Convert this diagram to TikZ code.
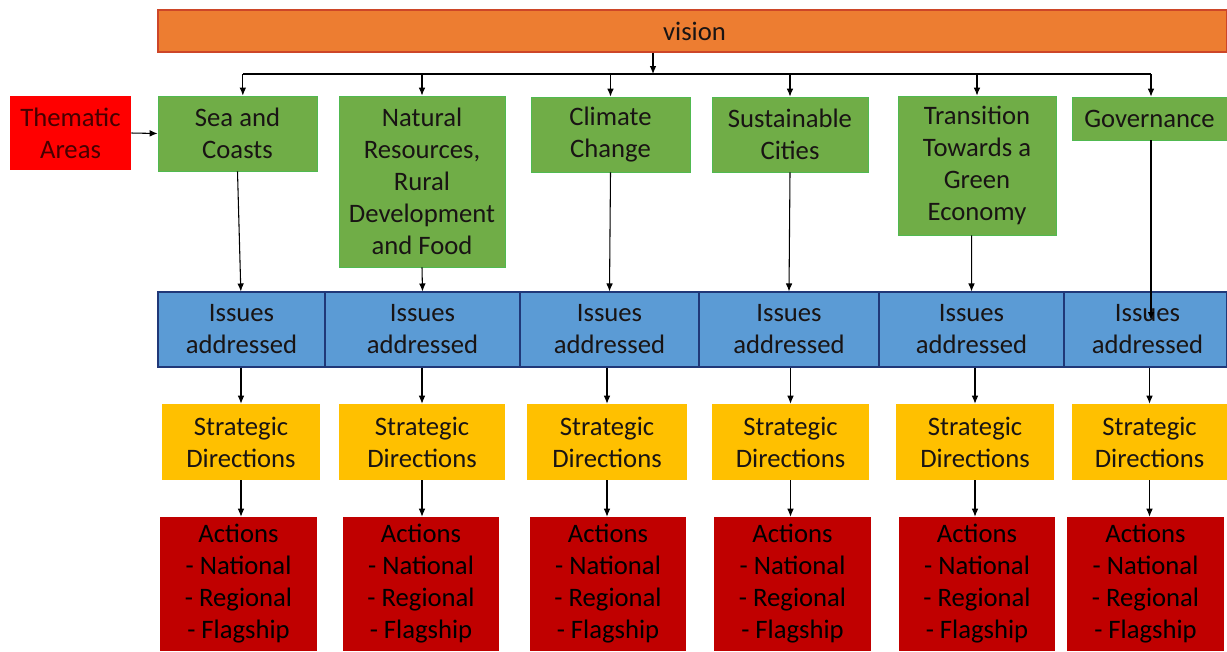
\documentclass[tikz,border=0pt]{standalone}
\usepackage{fontspec}
\setmainfont{Carlito}
\usepackage{xcolor}
\usetikzlibrary{arrows.meta}

\definecolor{visionfill}{RGB}{237,125,49}
\definecolor{visionline}{RGB}{205,70,40}
\definecolor{themefill}{RGB}{255,0,0}
\definecolor{themetext}{RGB}{70,0,0}
\definecolor{greenfill}{RGB}{112,173,71}
\definecolor{greenline}{RGB}{80,185,80}
\definecolor{bluefill}{RGB}{91,155,213}
\definecolor{blueline}{RGB}{32,56,120}
\definecolor{yellowfill}{RGB}{255,192,0}
\definecolor{actfill}{RGB}{192,0,0}
\definecolor{txtdark}{RGB}{25,20,20}

\begin{document}
\begin{tikzpicture}[x=0.75pt,y=-0.75pt,
    bw/.style={minimum width=#1*0.75pt},
    bh/.style={minimum height=#1*0.75pt},
    box/.style={inner sep=0pt, align=center, text=txtdark,
        font=\fontsize{20}{24}\selectfont},
    areabox/.style={box, fill=greenfill, draw=greenline, line width=0.6pt},
    issuebox/.style={box, fill=bluefill, draw=blueline, line width=0.8pt, bh=75},
    stratbox/.style={box, fill=yellowfill, bh=76},
    actbox/.style={box, fill=actfill, bh=134, text=black},
    link/.style={line width=0.8pt, -{Latex[length=6pt,width=5pt]}}]
    \useasboundingbox (0,0) rectangle (1227,651);

    % Vision bar
    \node[box, fill=visionfill, draw=visionline, line width=0.8pt,
        bw=1069, bh=42] (vision) at (692.5,31) {\hspace*{3pt}vision};

    % Thematic areas
    \node[box, fill=themefill, text=themetext,
        bw=121, bh=74] (theme) at (70.5,133) {Thematic\\Areas};
    \node[areabox, bw=159, bh=75] (sea) at (237.5,133.5) {Sea and\\Coasts};
    \node[areabox, bw=166, bh=171] (nat) at (422,181.5) {Natural\\Resources,\\Rural\\Development\\and Food};
    \node[areabox, bw=159, bh=75] (clim) at (610.5,134.5) {Climate\\Change};
    \node[areabox, bw=156, bh=75] (sust) at (790,134.5) {Sustainable\\Cities};
    \node[areabox, bw=158, bh=139] (trans) at (977,165.5) {Transition\\Towards a\\Green\\Economy};
    \node[areabox, bw=155, bh=43] (gov) at (1149.5,118.5) {Governance};

    % Issues row
    \node[issuebox, bw=167] (iss1) at (241.5,329.5) {Issues\\addressed};
    \node[issuebox, bw=195] (iss2) at (422.5,329.5) {Issues\\addressed};
    \node[issuebox, bw=179] (iss3) at (609.5,329.5) {Issues\\addressed};
    \node[issuebox, bw=180] (iss4) at (789,329.5) {Issues\\addressed};
    \node[issuebox, bw=185] (iss5) at (971.5,329.5) {Issues\\addressed};
    \node[issuebox, bw=163] (iss6) at (1145.5,329.5) {\hspace*{3pt}Issues\\\hspace*{3pt}addressed};

    % Strategic directions
    \node[stratbox, bw=158] (str1) at (241,442) {Strategic\\Directions};
    \node[stratbox, bw=166] (str2) at (422,442) {Strategic\\Directions};
    \node[stratbox, bw=160] (str3) at (607,442) {Strategic\\Directions};
    \node[stratbox, bw=157] (str4) at (790.5,442) {Strategic\\Directions};
    \node[stratbox, bw=158] (str5) at (975,442) {Strategic\\Directions};
    \node[stratbox, bw=155] (str6) at (1149.5,442) {Strategic\\Directions};

    % Actions
    \node[actbox, bw=157] (act1) at (238.5,584) {Actions\\- National\\- Regional\\- Flagship};
    \node[actbox, bw=156] (act2) at (421,584) {Actions\\- National\\- Regional\\- Flagship};
    \node[actbox, bw=156] (act3) at (608,584) {Actions\\- National\\- Regional\\- Flagship};
    \node[actbox, bw=157] (act4) at (792.5,584) {Actions\\- National\\- Regional\\- Flagship};
    \node[actbox, bw=156] (act5) at (977,584) {Actions\\- National\\- Regional\\- Flagship};
    \node[actbox, bw=157] (act6) at (1145.5,584) {Actions\\- National\\- Regional\\- Flagship};

    % Distribution bus from the vision
    \coordinate (bus) at (653,74);
    \coordinate (govend) at (1151,320);
    \draw[link] (vision.south -| bus) -- (bus);
    \draw[line width=0.8pt] ([xshift=4pt]sea.north |- bus) -- (govend |- bus);
    \draw[link] ([xshift=4pt]sea.north |- bus) -- ([xshift=4pt]sea.north);
    \draw[link] (nat.north |- bus) -- (nat.north);
    \draw[link] (clim.north |- bus) -- (clim.north);
    \draw[link] (sust.north |- bus) -- (sust.north);
    \draw[link] (trans.north |- bus) -- (trans.north);
    \draw[link] (govend |- bus) -- (govend |- gov.north);
    \draw[link] (theme.east) -- (sea.west);

    % Areas to issues
    \draw[link] (sea.south) -- ([xshift=-0.5pt]iss1.north);
    \draw[link] (nat.south) -- (iss2.north);
    \draw[link] (clim.south) -- (iss3.north);
    \draw[link] (sust.south) -- (iss4.north);
    \draw[link] ([xshift=-4pt]trans.south) -- (iss5.north);
    \draw[link] (govend |- gov.south) -- (govend);

    % Issues to strategic directions to actions
    \foreach \i in {1,...,6} {
        \draw[link] (str\i.north |- iss\i.south) -- (str\i.north);
        \draw[link] (str\i.south) -- (str\i.south |- act\i.north);
    }
\end{tikzpicture}
\end{document}
